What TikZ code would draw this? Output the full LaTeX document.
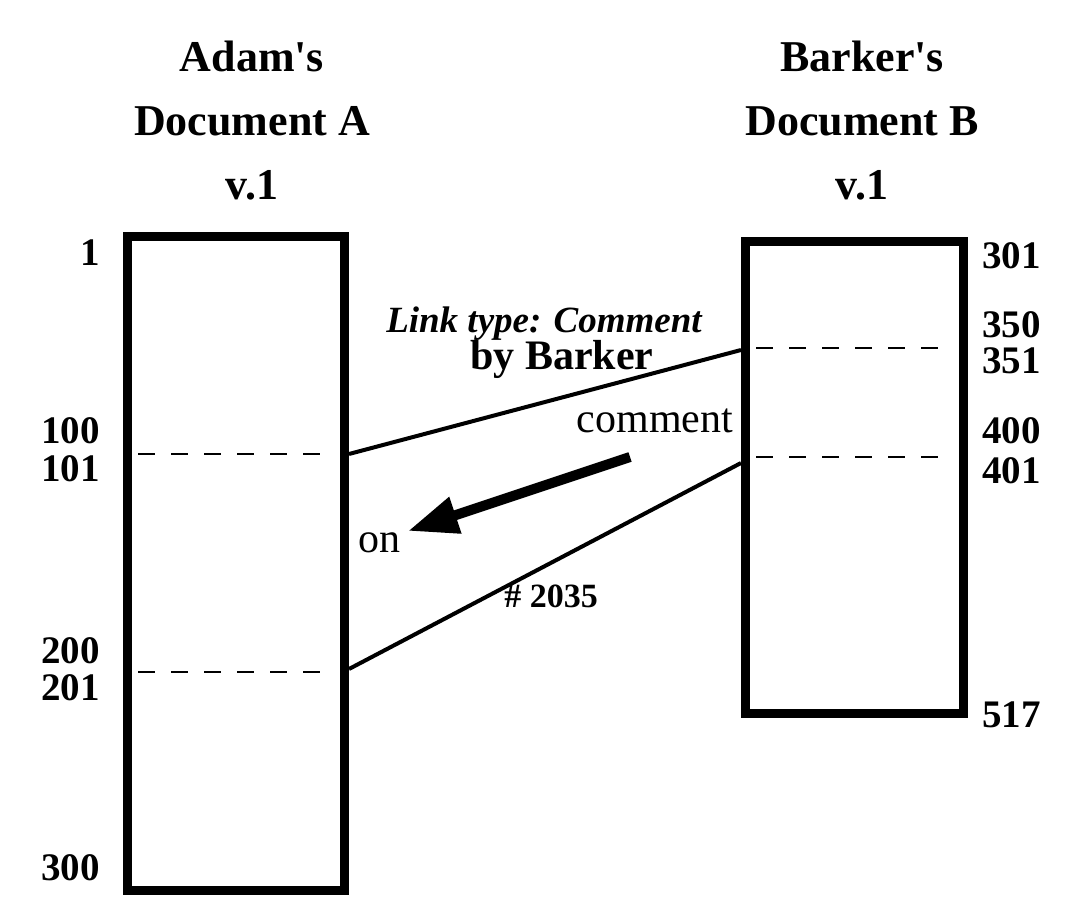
\documentclass[tikz,border=0pt]{standalone}
\usepackage{fontspec}
\setmainfont{Liberation Serif}
\usetikzlibrary{arrows.meta}

\begin{document}
\begin{tikzpicture}[x=0.5pt,y=-0.5pt,
        doc/.style={
            rectangle, draw = black, line width = 4.5pt, inner sep = 0pt
        },
        title/.style={
            align = center, font = \fontsize{22}{32}\selectfont\bfseries
        },
        lineno/.style={
            inner sep = 0pt, font = \fontsize{19.5}{22}\selectfont\bfseries
        },
        note/.style={
            inner sep = 0pt, font = \fontsize{21}{24}\selectfont
        },
        link/.style={
            line width = 2pt
        },
        split/.style={
            line width = 1pt, dash pattern = on 8.5pt off 8pt, shorten <= 7.5pt, shorten >= 8.5pt
        },
        pointer/.style={
            line width = 5pt, -{Triangle[length=25pt,width=18pt]}
        },
    ]
        \fill[white] (0,0) rectangle (1067,921);

        \node (docA) [doc,minimum width=108.5pt,minimum height=327pt] at (236,563.5) {};
        \node (docB) [doc,minimum width=109pt,minimum height=236pt] at (854.5,477.5) {};

        \node (titleA) [title] at (252,121) {Adam\textquotesingle s\\Document A\\v.1};
        \node (titleB) [title] at (862,121) {Barker\textquotesingle s\\Document B\\v.1};

        \node (a1) [lineno,anchor=base east] at (100,265) {1};
        \node (a100) [lineno,anchor=base east] at (100,443) {100};
        \node (a101) [lineno,anchor=base east] at (100,481) {101};
        \node (a200) [lineno,anchor=base east] at (100,663) {200};
        \node (a201) [lineno,anchor=base east] at (100,700) {201};
        \node (a300) [lineno,anchor=base east] at (100,880) {300};

        \node (b301) [lineno,anchor=base west] at (982,268) {301};
        \node (b350) [lineno,anchor=base west] at (982,337) {350};
        \node (b351) [lineno,anchor=base west] at (982,373) {351};
        \node (b400) [lineno,anchor=base west] at (982,443) {400};
        \node (b401) [lineno,anchor=base west] at (982,483) {401};
        \node (b517) [lineno,anchor=base west] at (982,727) {517};

        \draw[split] (docA.west |- 0,454) -- (docA.east |- 0,454);
        \draw[split] (docA.west |- 0,672) -- (docA.east |- 0,672);
        \draw[split] (docB.west |- 0,348) -- (docB.east |- 0,348);
        \draw[split] (docB.west |- 0,457) -- (docB.east |- 0,457);

        \coordinate (fromTop) at (docA.east |- 0,454);
        \coordinate (toTop) at (docB.west |- 0,350);
        \coordinate (fromBottom) at (docA.east |- 0,669);
        \coordinate (toBottom) at (docB.west |- 0,463);
        \draw[link] (fromTop) -- (toTop);
        \draw[link] (fromBottom) -- (toBottom);

        \node (linkType) [inner sep=0pt,anchor=base,font=\fontsize{18.5}{22}\selectfont\bfseries\itshape] at (544,332) {Link type: Comment};
        \node (byBarker) [inner sep=0pt,anchor=base,font=\fontsize{21}{24}\selectfont\bfseries] at (562,369) {by Barker};
        \node (comment) [note,anchor=base] at (655,432) {comment};
        \node (on) [note,anchor=base] at (379,552) {on};
        \node (linkId) [inner sep=0pt,anchor=base,font=\fontsize{17}{20}\selectfont\bfseries] at (551,607) {\# 2035};

        \coordinate (arrowTail) at (630,457);
        \coordinate (arrowTip) at (408,531);
        \draw[pointer] (arrowTail) -- (arrowTip);
    \end{tikzpicture}
\end{document}
